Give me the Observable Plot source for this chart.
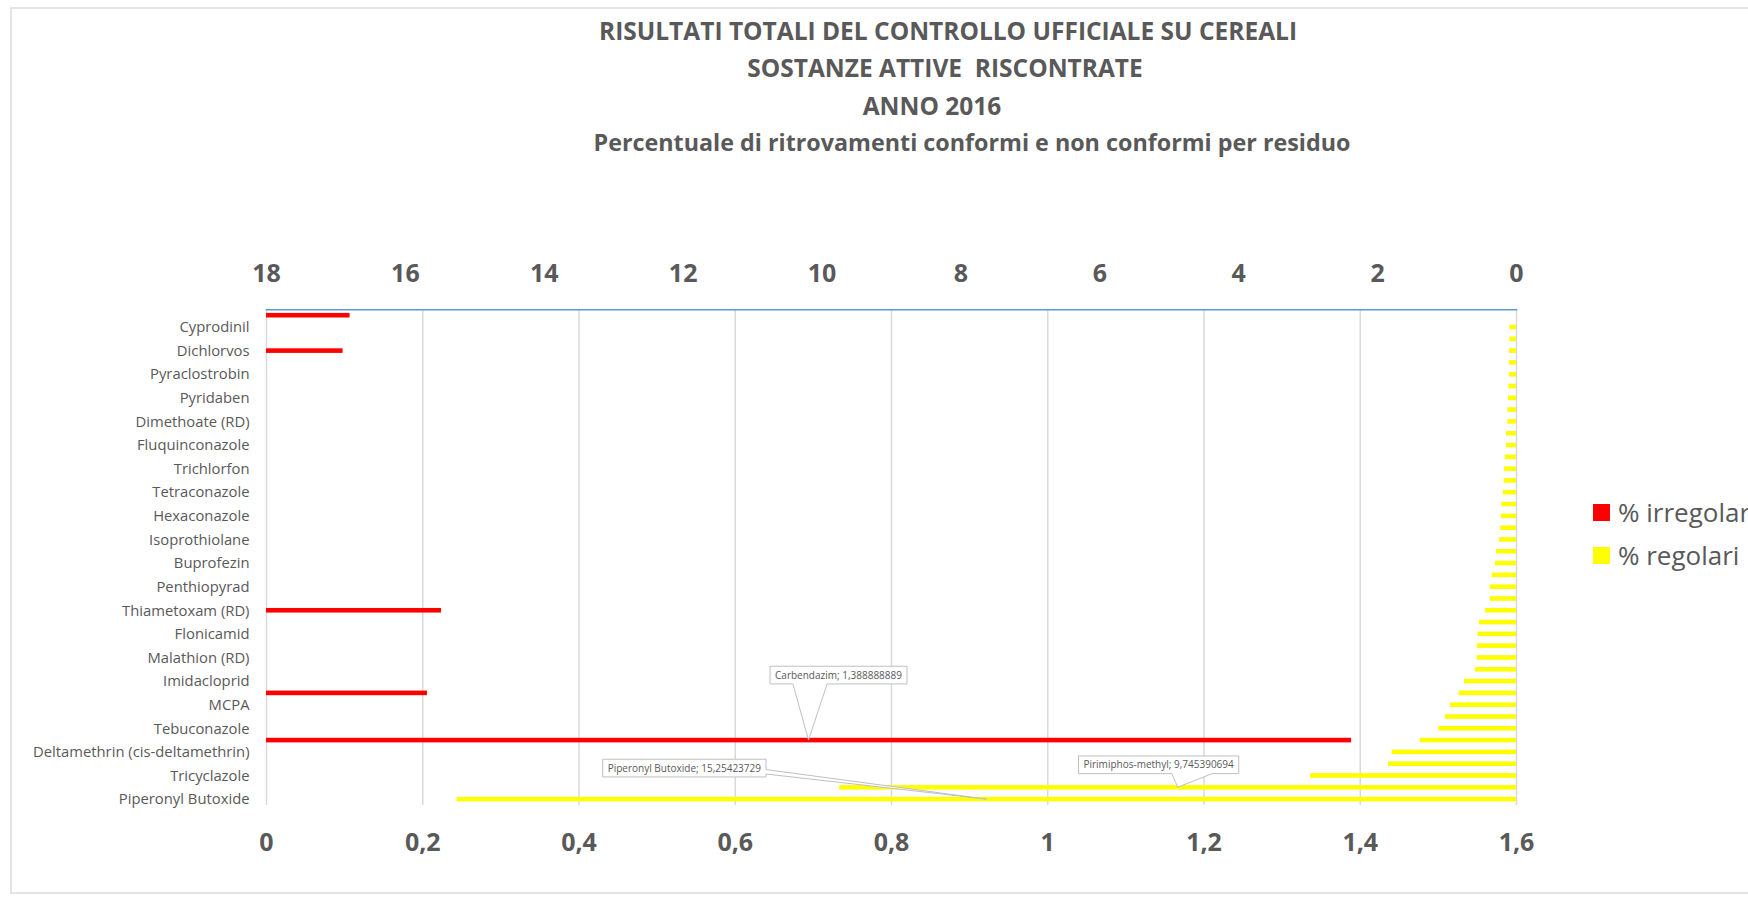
<!DOCTYPE html>
<html><head><meta charset="utf-8">
<script src="https://cdn.jsdelivr.net/npm/d3@7"></script>
<script src="https://cdn.jsdelivr.net/npm/@observablehq/plot@0.6"></script>
<style>
html,body{margin:0;padding:0;width:1748px;height:897px;overflow:hidden;background:#fff;font-family:"Open Sans",sans-serif;color:#595959}
#border{position:absolute;left:10px;top:7px;width:1900px;height:887px;border:2px solid #e4e4e4;box-sizing:border-box;pointer-events:none}
#title{position:relative;height:180px;width:1748px}
#title div{position:absolute;transform:translate(-50%,-50%);white-space:pre;font-weight:700;font-size:24.5px;line-height:1}
#title div.sub{font-size:23.3px}
#chart{position:relative;width:1748px;height:717px}
.leg{position:absolute;left:1593px;white-space:nowrap;font-size:26px;line-height:1}
.leg span.sw{position:absolute;left:0;width:17px;height:17px}
.leg span.tx{position:absolute;left:25px;transform:translateY(-50%)}
</style></head>
<body>
<div id="border"></div>
<div id="title">
  <div style="left:948px;top:31px">RISULTATI TOTALI DEL CONTROLLO UFFICIALE SU CEREALI</div>
  <div style="left:945px;top:68px">SOSTANZE ATTIVE  RISCONTRATE</div>
  <div style="left:932px;top:106px">ANNO 2016</div>
  <div class="sub" style="left:972px;top:143px">Percentuale di ritrovamenti conformi e non conformi per residuo</div>
</div>
<div id="chart"></div>
<div id="legend"></div>
<script>
// ---- data ----
const categories = [null,"Cyprodinil",null,"Dichlorvos",null,"Pyraclostrobin",null,"Pyridaben",null,"Dimethoate (RD)",
  null,"Fluquinconazole",null,"Trichlorfon",null,"Tetraconazole",null,"Hexaconazole",null,"Isoprothiolane",
  null,"Buprofezin",null,"Penthiopyrad",null,"Thiametoxam (RD)",null,"Flonicamid",null,"Malathion (RD)",
  null,"Imidacloprid",null,"MCPA",null,"Tebuconazole","Carbendazim","Deltamethrin (cis-deltamethrin)",null,"Tricyclazole",
  "Pirimiphos-methyl","Piperonyl Butoxide"];
const irregolari = [0.107,0,0,0.098,0,0,0,0,0,0,
  0,0,0,0,0,0,0,0,0,0,
  0,0,0,0,0,0.224,0,0,0,0,
  0,0,0.206,0,0,0,1.388888889,0,0,0,
  0,0];
const regolari = [0,0.096,0.096,0.10,0.10,0.10,0.11,0.115,0.125,0.125,
  0.144,0.144,0.163,0.173,0.178,0.19,0.212,0.216,0.226,0.245,
  0.288,0.302,0.35,0.379,0.379,0.446,0.533,0.552,0.562,0.566,
  0.59,0.749,0.826,0.95,1.022,1.118,1.387,1.79,1.843,2.966,
  9.745390694,15.25423729];
const bottomTicks = [0,0.2,0.4,0.6,0.8,1,1.2,1.4,1.6];
const topTicks = [18,16,14,12,10,8,6,4,2,0];
const labeledIdx = d3.range(1,42,2);
const seriesNames = ["% irregolari","% regolari"];
const seriesColors = ["#ff0000","#ffff00"];
const callouts = [
  {i:36, series:0, dx:30, dy:-65},
  {i:41, series:1, dx:-302, dy:-31},
  {i:40, series:1, dx:-19, dy:-22.5}
];

// ---- mapping secondary (reversed, 0..18) axis into primary (0..1.6) ----
const pMax = bottomTicks[bottomTicks.length-1], sMax = topTicks[0];
const toX = v => pMax * (1 - v / sMax);
const topMap = new Map(topTicks.map(t => [toX(t), String(t)]));
const comma = v => String(+v.toFixed(10)).replace(".", ",");

const irrRows = irregolari.map((v,i)=>({i,v})).filter(d=>d.v>0);
const regRows = regolari.map((v,i)=>({i,v})).filter(d=>d.v>0);

const plot = Plot.plot({
  width:1748, height:717,
  marginLeft:266, marginRight:232, marginTop:129.3, marginBottom:92,
  style:{fontFamily:"'Open Sans', sans-serif", color:"#595959", background:"transparent", overflow:"visible"},
  x:{domain:[0,pMax], axis:null, label:null},
  y:{type:"band", domain:d3.range(categories.length), padding:0, round:false, axis:null, label:null},
  marks:[
    Plot.gridX(bottomTicks, {stroke:"#d9d9d9", strokeOpacity:1, strokeWidth:1.5}),
    Plot.barX(irrRows, {x1:()=>0, x2:"v", y:"i", fill:seriesColors[0], insetTop:3.6, insetBottom:3.6}),
    Plot.barX(regRows, {x1:d=>toX(d.v), x2:()=>toX(0), y:"i", fill:seriesColors[1], insetTop:3.6, insetBottom:3.6}),
    Plot.frame({anchor:"top", stroke:"#5b9bd5", strokeWidth:1.5}),
    Plot.axisX(bottomTicks, {anchor:"bottom", label:null, tickSize:0, tickPadding:28, fontSize:25, fontWeight:"bold", tickFormat:comma}),
    Plot.axisX(topTicks.map(toX), {anchor:"top", label:null, tickSize:0, tickPadding:28, fontSize:25, fontWeight:"bold", tickFormat:t=>topMap.get(t)}),
    Plot.axisY(labeledIdx, {anchor:"left", label:null, tickSize:0, tickPadding:17, fontSize:14.8, tickFormat:i=>categories[i]})
  ]
});
document.getElementById("chart").appendChild(plot);

// ---- callouts (data labels) ----
const xs = plot.scale("x"), ys = plot.scale("y");
const fx = xs.apply ? v=>xs.apply(v) : d3.scaleLinear(xs.domain, xs.range);
const bw = ys.bandwidth;
const fy = i => (ys.apply ? ys.apply(i) : ys.range[0] + i*ys.step) + bw/2;
const svg = d3.select(plot);
const g = svg.append("g").attr("font-family","'Open Sans', sans-serif").attr("font-size",10);
for (const c of callouts) {
  const v = c.series === 0 ? irregolari[c.i] : regolari[c.i];
  const mid = c.series === 0 ? v/2 : (toX(v) + toX(0))/2;
  const tx = fx(mid), ty = fy(c.i);
  const cx = tx + c.dx, cy = ty + c.dy;
  const label = `${categories[c.i]}; ${comma(v)}`;
  const path = g.append("path").attr("fill","#fff").attr("stroke","#bfbfbf").attr("stroke-width",1);
  const t = g.append("text").attr("x",cx).attr("y",cy).attr("dy","0.35em").attr("text-anchor","middle").attr("fill","#595959").text(label);
  const w = t.node().getComputedTextLength() + 10, h = 17.7;
  const x0 = cx - w/2, x1 = cx + w/2, y0 = cy - h/2, y1 = cy + h/2;
  const rx = Math.abs(tx-cx)/(w/2), ry = Math.abs(ty-cy)/(h/2);
  let d;
  if (ry >= rx) {
    const f = tx > cx ? [7/12,10/12] : [2/12,5/12];
    const b1 = x0 + w*f[0], b2 = x0 + w*f[1];
    if (ty > cy) d = `M${x0},${y0}H${x1}V${y1}H${b2}L${tx},${ty}L${b1},${y1}H${x0}Z`;
    else d = `M${x0},${y1}H${x1}V${y0}H${b2}L${tx},${ty}L${b1},${y0}H${x0}Z`;
  } else {
    const f = ty > cy ? [7/12,10/12] : [2/12,5/12];
    const b1 = y0 + h*f[0], b2 = y0 + h*f[1];
    if (tx > cx) d = `M${x0},${y0}H${x1}V${b1}L${tx},${ty}L${x1},${b2}V${y1}H${x0}Z`;
    else d = `M${x1},${y0}H${x0}V${b1}L${tx},${ty}L${x0},${b2}V${y1}H${x1}Z`;
  }
  path.attr("d", d);
}

// ---- legend ----
const leg = document.getElementById("legend");
const legTop = [503.5, 546.5];
seriesNames.forEach((name,k)=>{
  const div = document.createElement("div");
  div.className = "leg";
  div.style.top = legTop[k] + "px";
  div.innerHTML = `<span class="sw" style="background:${seriesColors[k]}"></span><span class="tx" style="top:8.5px">${name}</span>`;
  leg.appendChild(div);
});
</script>
</body></html>
